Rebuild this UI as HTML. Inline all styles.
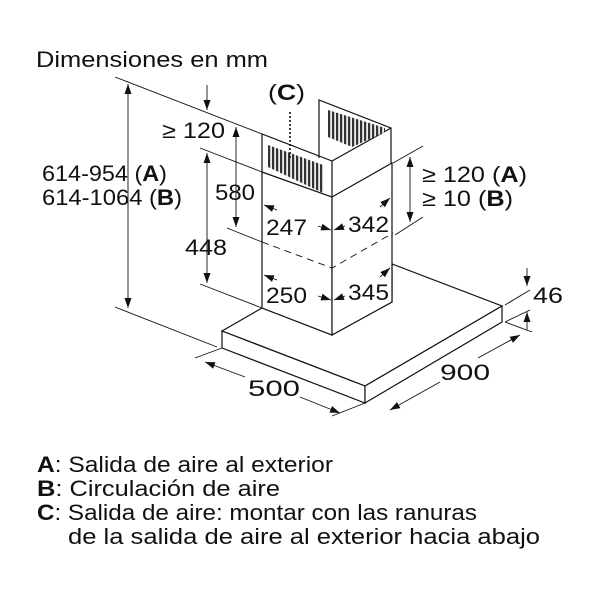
<!DOCTYPE html>
<html><head><meta charset="utf-8"><style>
html,body{margin:0;padding:0;background:#fff}
svg{display:block}
text{font-family:"Liberation Sans",Arial,sans-serif;fill:#111}
</style></head><body>
<svg width="600" height="600" viewBox="0 0 600 600" xmlns="http://www.w3.org/2000/svg">
<defs>
<pattern id="gr" width="4" height="10" patternUnits="userSpaceOnUse">
<rect width="4" height="10" fill="#eee"/><rect width="2.2" height="10" fill="#333"/>
</pattern>
<marker id="ar" viewBox="0 0 10 10" refX="10" refY="5" markerWidth="10" markerHeight="10" markerUnits="userSpaceOnUse" orient="auto-start-reverse">
<path d="M0,1.5 L10,5 L0,8.5 z" fill="#111"/></marker>
</defs>
<g stroke="#111" fill="none" stroke-width="1.2">
<polygon points="222,331 262,308 332,335 392,302 392,264 502,306 365,386" fill="#fff"/>
<polygon points="222,331 365,386 365,403 222,348" fill="#fff"/>
<polygon points="365,386 502,306 502,322 365,403" fill="#fff"/>
<polygon points="262,172 332,197 332,335 262,308" fill="#fff"/>
<polygon points="332,197 392,163 392,302 332,335" fill="#fff"/>
<polyline points="319,158 319,100 391,128 391,163"/>
<polyline points="262,172 262,134 332,161 332,197"/>
<line x1="332" y1="161" x2="391" y2="128"/>
<polygon points="328,110 385,128 385,132 352,147 328,137" fill="url(#gr)" stroke="none"/>
<polygon points="268,145 323,165 323,193 268,167" fill="url(#gr)" stroke="none"/>
<line x1="290" y1="112" x2="290" y2="158" stroke-dasharray="2,2" stroke-width="1.6"/>
<polyline points="262,242 332,268 393,233" stroke-dasharray="7,5" stroke-width="0.9"/>
</g>
<g stroke="#111" fill="none" stroke-width="0.9">
<line x1="115" y1="77" x2="262" y2="134"/>
<line x1="115" y1="307" x2="217" y2="347"/>
<line x1="200" y1="148" x2="262" y2="172"/>
<line x1="227" y1="228" x2="262" y2="242"/>
<line x1="200" y1="284" x2="262" y2="308"/>
<line x1="393" y1="163" x2="423" y2="146"/>
<line x1="395" y1="235" x2="423" y2="217"/>
<line x1="505" y1="305" x2="530" y2="290"/>
<line x1="505" y1="322" x2="530" y2="310"/>
<line x1="195" y1="358" x2="222" y2="348"/>
<line x1="332" y1="416" x2="365" y2="403"/>
<line x1="505" y1="322" x2="532" y2="332"/>
<line x1="128" y1="84" x2="128" y2="308" marker-start="url(#ar)" marker-end="url(#ar)"/>
<line x1="207" y1="85" x2="207" y2="110" marker-end="url(#ar)"/>
<line x1="236" y1="127" x2="236" y2="227" marker-start="url(#ar)" marker-end="url(#ar)"/>
<line x1="207" y1="153" x2="207" y2="283" marker-start="url(#ar)" marker-end="url(#ar)"/>
<line x1="410" y1="157" x2="410" y2="222" marker-start="url(#ar)" marker-end="url(#ar)"/>
<line x1="527" y1="268" x2="527" y2="286" marker-end="url(#ar)"/>
<line x1="527" y1="330" x2="527" y2="312" marker-end="url(#ar)"/>
<line x1="205" y1="362" x2="245" y2="377" marker-start="url(#ar)"/>
<line x1="300" y1="397" x2="340" y2="413" marker-end="url(#ar)"/>
<line x1="390" y1="410" x2="440" y2="382" marker-start="url(#ar)"/>
<line x1="478" y1="358" x2="520" y2="335" marker-end="url(#ar)"/>
<line x1="277" y1="210" x2="264" y2="205" marker-end="url(#ar)"/>
<line x1="318" y1="226" x2="331" y2="230" marker-end="url(#ar)"/>
<line x1="345" y1="226" x2="334" y2="230" marker-end="url(#ar)"/>
<line x1="380" y1="207" x2="390" y2="198" marker-end="url(#ar)"/>
<line x1="277" y1="280" x2="264" y2="275" marker-end="url(#ar)"/>
<line x1="318" y1="296" x2="331" y2="300" marker-end="url(#ar)"/>
<line x1="345" y1="296" x2="334" y2="300" marker-end="url(#ar)"/>
<line x1="380" y1="277" x2="390" y2="268" marker-end="url(#ar)"/>
</g>
<g font-size="22" lengthAdjust="spacingAndGlyphs">
<text x="36" y="67" textLength="232" lengthAdjust="spacingAndGlyphs">Dimensiones en mm</text>
<text x="268" y="100" textLength="37" lengthAdjust="spacingAndGlyphs">(<tspan font-weight="bold">C</tspan>)</text>
<text x="162" y="138" textLength="63" lengthAdjust="spacingAndGlyphs">≥ 120</text>
<text x="215" y="200" textLength="40" lengthAdjust="spacingAndGlyphs">580</text>
<text x="185" y="255" textLength="42" lengthAdjust="spacingAndGlyphs">448</text>
<text x="42" y="181" textLength="125" lengthAdjust="spacingAndGlyphs">614-954 (<tspan font-weight="bold">A</tspan>)</text>
<text x="42" y="205" textLength="140" lengthAdjust="spacingAndGlyphs">614-1064 (<tspan font-weight="bold">B</tspan>)</text>
<text x="266" y="235" textLength="41" lengthAdjust="spacingAndGlyphs">247</text>
<text x="348" y="232" textLength="41" lengthAdjust="spacingAndGlyphs">342</text>
<text x="266" y="303" textLength="41" lengthAdjust="spacingAndGlyphs">250</text>
<text x="348" y="300" textLength="41" lengthAdjust="spacingAndGlyphs">345</text>
<text x="422" y="182" textLength="105" lengthAdjust="spacingAndGlyphs">≥ 120 (<tspan font-weight="bold">A</tspan>)</text>
<text x="422" y="206" textLength="91" lengthAdjust="spacingAndGlyphs">≥ 10 (<tspan font-weight="bold">B</tspan>)</text>
<text x="533" y="303" textLength="30" lengthAdjust="spacingAndGlyphs">46</text>
<text x="248" y="396" textLength="52" lengthAdjust="spacingAndGlyphs">500</text>
<text x="440" y="380" textLength="50" lengthAdjust="spacingAndGlyphs">900</text>
<text x="37" y="472" textLength="296" lengthAdjust="spacingAndGlyphs"><tspan font-weight="bold">A</tspan>: Salida de aire al exterior</text>
<text x="37" y="496" textLength="243" lengthAdjust="spacingAndGlyphs"><tspan font-weight="bold">B</tspan>: Circulación de aire</text>
<text x="37" y="520" textLength="440" lengthAdjust="spacingAndGlyphs"><tspan font-weight="bold">C</tspan>: Salida de aire: montar con las ranuras</text>
<text x="68" y="544" textLength="472" lengthAdjust="spacingAndGlyphs">de la salida de aire al exterior hacia abajo</text>
</g>
</svg>
</body></html>
